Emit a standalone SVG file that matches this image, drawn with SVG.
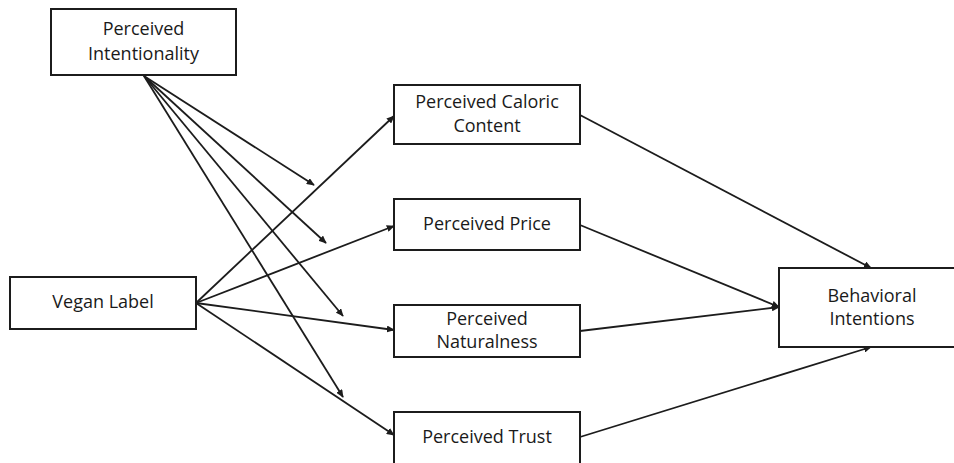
<svg xmlns="http://www.w3.org/2000/svg" width="954" height="463" viewBox="0 0 954 463">
<defs>
<style>
.box{fill:#fff;stroke:#1c1c1c;stroke-width:2}
.t{font-family:"Open Sans","Liberation Sans",sans-serif;font-size:18px;fill:#1a1a1a;text-anchor:middle}
.c{stroke:#1c1c1c;stroke-width:1.8;fill:none;marker-end:url(#ah)}
</style>
<marker id="ah" viewBox="0 0 10 10" refX="9" refY="5" markerWidth="8" markerHeight="7" orient="auto" markerUnits="userSpaceOnUse" preserveAspectRatio="none">
<path d="M0,0 L10,5 L0,10 z" fill="#1c1c1c"/>
</marker>
</defs>
<rect width="954" height="463" fill="#fff"/>
<g id="connectors">
<line class="c" x1="144" y1="76" x2="314" y2="185"/>
<line class="c" x1="144" y1="76" x2="326" y2="243"/>
<line class="c" x1="144" y1="76" x2="343" y2="316"/>
<line class="c" x1="144" y1="76" x2="343" y2="397"/>
<line class="c" x1="196" y1="303" x2="394" y2="116"/>
<line class="c" x1="196" y1="303" x2="394" y2="226"/>
<line class="c" x1="196" y1="303" x2="394" y2="330"/>
<line class="c" x1="196" y1="303" x2="394" y2="435"/>
<line class="c" x1="580" y1="115" x2="871" y2="268"/>
<line class="c" x1="580" y1="225" x2="779" y2="307"/>
<line class="c" x1="580" y1="331" x2="779" y2="307"/>
<line class="c" x1="580" y1="437" x2="871" y2="347"/>
</g>
<g id="perceived-intentionality">
<rect class="box" x="51" y="9" width="185" height="66"/>
<text class="t" x="143.5" y="35">Perceived</text>
<text class="t" x="143.5" y="60">Intentionality</text>
</g>
<g id="vegan-label">
<rect class="box" x="10" y="277" width="186" height="52"/>
<text class="t" x="103" y="308">Vegan Label</text>
</g>
<g id="perceived-caloric-content">
<rect class="box" x="394" y="85" width="186" height="59"/>
<text class="t" x="487" y="108">Perceived Caloric</text>
<text class="t" x="487" y="132">Content</text>
</g>
<g id="perceived-price">
<rect class="box" x="394" y="199" width="186" height="51"/>
<text class="t" x="487" y="230">Perceived Price</text>
</g>
<g id="perceived-naturalness">
<rect class="box" x="394" y="305" width="186" height="52"/>
<text class="t" x="487" y="325">Perceived</text>
<text class="t" x="487" y="348">Naturalness</text>
</g>
<g id="perceived-trust">
<rect class="box" x="394" y="412" width="186" height="60"/>
<text class="t" x="487" y="443">Perceived Trust</text>
</g>
<g id="behavioral-intentions">
<rect class="box" x="779" y="268" width="190" height="79"/>
<text class="t" x="872" y="302">Behavioral</text>
<text class="t" x="872" y="325">Intentions</text>
</g>
</svg>
